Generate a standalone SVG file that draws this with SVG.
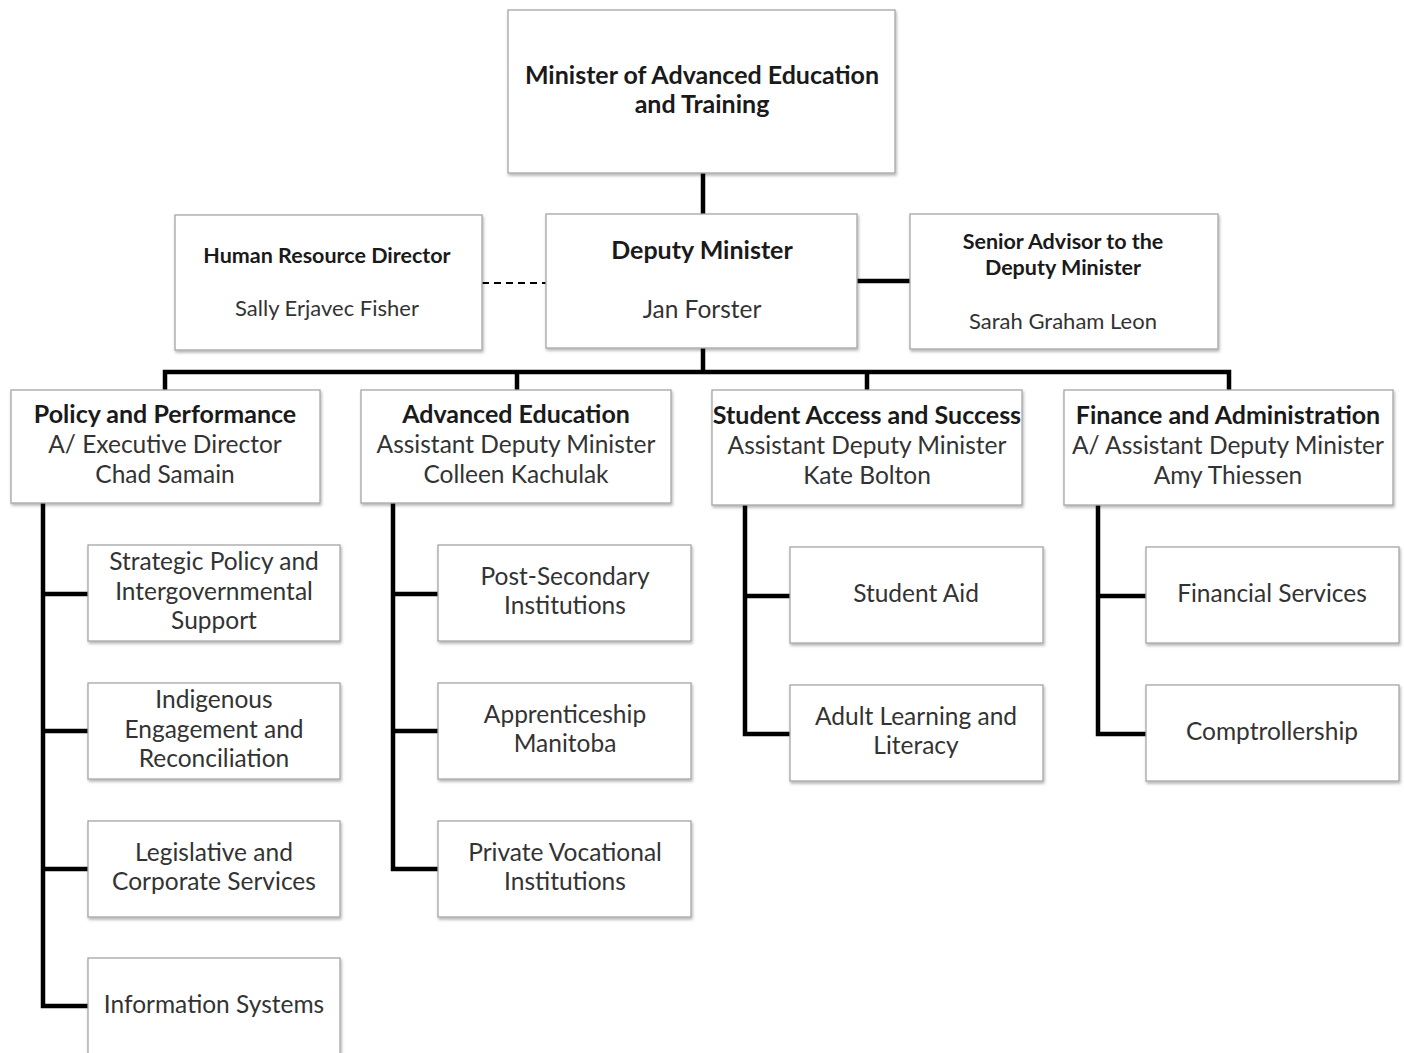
<svg xmlns="http://www.w3.org/2000/svg" width="1404" height="1053" viewBox="0 0 1404 1053">
<defs>
<filter id="sh" x="-5%" y="-5%" width="110%" height="115%">
<feDropShadow dx="1" dy="2" stdDeviation="1.5" flood-color="#000" flood-opacity="0.3"/>
</filter>
<style>
.box{fill:#fff;stroke:#a6a6a6;stroke-width:1.3;filter:url(#sh)}
text{font-family:Lato,"Open Sans","Liberation Sans",sans-serif;text-anchor:middle;fill:#333}
.b{font-weight:bold;fill:#1a1a1a}
.t{font-size:24.5px}
.h{font-size:25px}
.s{font-size:21.5px}
.c{stroke:#000;stroke-width:4.5;fill:none}
.d{stroke:#000;stroke-width:1.8;stroke-dasharray:7 5;fill:none}
</style>
</defs>
<rect width="1404" height="1053" fill="#fff"/>
<g id="connectors">
<path class="c" d="M703 173V214"/>
<path class="c" d="M703 348V372M165 390V372H1229V390M517 372V390M867 372V390"/>
<path class="c" d="M857 281H910"/>
<path class="d" d="M482 283H546"/>
<path class="c" d="M43 503V1006H88M43 594H88M43 731H88M43 869H88"/>
<path class="c" d="M393 503V869H438M393 594H438M393 731H438"/>
<path class="c" d="M745 505V734H790M745 596H790"/>
<path class="c" d="M1098 505V734H1146M1098 596H1146"/>
</g>
<g id="minister"><rect class="box" x="508" y="10" width="387" height="163"/>
<text class="b h" x="702" y="84">Minister of Advanced Education</text>
<text class="b h" x="702" y="113">and Training</text></g>
<g id="deputy"><rect class="box" x="546" y="214" width="311" height="134"/>
<text class="b h" x="702" y="259">Deputy Minister</text>
<text class="t" x="702" y="318">Jan Forster</text></g>
<g id="hr"><rect class="box" x="175" y="215" width="307" height="135"/>
<text class="b s" x="327" y="263">Human Resource Director</text>
<text x="327" y="316" style="font-size:22px">Sally Erjavec Fisher</text></g>
<g id="advisor"><rect class="box" x="910" y="214" width="308" height="135"/>
<text class="b s" x="1063" y="249">Senior Advisor to the</text>
<text class="b s" x="1063" y="275">Deputy Minister</text>
<text x="1063" y="329" style="font-size:22px">Sarah Graham Leon</text></g>
<g id="policy"><rect class="box" x="11" y="390" width="309" height="113"/>
<text class="b h" x="165" y="423">Policy and Performance</text>
<text class="t" x="165" y="453">A/ Executive Director</text>
<text class="t" x="165" y="483">Chad Samain</text></g>
<g id="advanced"><rect class="box" x="361" y="390" width="310" height="113"/>
<text class="b h" x="516" y="423">Advanced Education</text>
<text class="t" x="516" y="453">Assistant Deputy Minister</text>
<text class="t" x="516" y="483">Colleen Kachulak</text></g>
<g id="student"><rect class="box" x="712" y="390" width="310" height="115"/>
<text class="b h" x="867" y="424">Student Access and Success</text>
<text class="t" x="867" y="454">Assistant Deputy Minister</text>
<text class="t" x="867" y="484">Kate Bolton</text></g>
<g id="finance"><rect class="box" x="1064" y="390" width="329" height="115"/>
<text class="b h" x="1228" y="424">Finance and Administration</text>
<text class="t" x="1228" y="454">A/ Assistant Deputy Minister</text>
<text class="t" x="1228" y="484">Amy Thiessen</text></g>
<g id="strategic"><rect class="box" x="88" y="545" width="252" height="96"/>
<text class="t" x="214" y="570">Strategic Policy and</text>
<text class="t" x="214" y="600">Intergovernmental</text>
<text class="t" x="214" y="629">Support</text></g>
<g id="indigenous"><rect class="box" x="88" y="683" width="252" height="96"/>
<text class="t" x="214" y="708">Indigenous</text>
<text class="t" x="214" y="738">Engagement and</text>
<text class="t" x="214" y="767">Reconciliation</text></g>
<g id="legislative"><rect class="box" x="88" y="821" width="252" height="96"/>
<text class="t" x="214" y="861">Legislative and</text>
<text class="t" x="214" y="890">Corporate Services</text></g>
<g id="infosys"><rect class="box" x="88" y="958" width="252" height="110"/>
<text class="t" x="214" y="1013">Information Systems</text></g>
<g id="postsec"><rect class="box" x="438" y="545" width="253" height="96"/>
<text class="t" x="565" y="585">Post-Secondary</text>
<text class="t" x="565" y="614">Institutions</text></g>
<g id="apprentice"><rect class="box" x="438" y="683" width="253" height="96"/>
<text class="t" x="565" y="723">Apprenticeship</text>
<text class="t" x="565" y="752">Manitoba</text></g>
<g id="vocational"><rect class="box" x="438" y="821" width="253" height="96"/>
<text class="t" x="565" y="861">Private Vocational</text>
<text class="t" x="565" y="890">Institutions</text></g>
<g id="aid"><rect class="box" x="790" y="547" width="253" height="96"/>
<text class="t" x="916" y="602">Student Aid</text></g>
<g id="adult"><rect class="box" x="790" y="685" width="253" height="96"/>
<text class="t" x="916" y="725">Adult Learning and</text>
<text class="t" x="916" y="754">Literacy</text></g>
<g id="finserv"><rect class="box" x="1146" y="547" width="253" height="96"/>
<text class="t" x="1272" y="602">Financial Services</text></g>
<g id="comptroller"><rect class="box" x="1146" y="685" width="253" height="96"/>
<text class="t" x="1272" y="740">Comptrollership</text></g>
</svg>
